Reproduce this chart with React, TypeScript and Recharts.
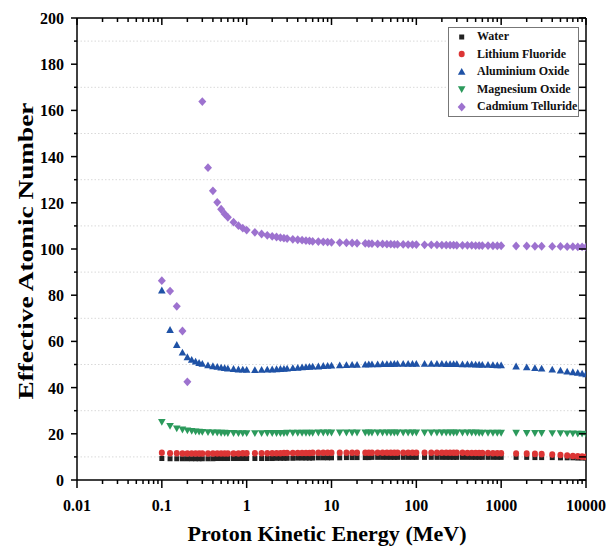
import { ScatterChart, Scatter, XAxis, YAxis, ReferenceLine } from "recharts";

// proton energies (MeV) used for every material
const energies = [
  0.1, 0.125, 0.15, 0.175, 0.2, 0.225, 0.25, 0.275, 0.3, 0.35, 0.4, 0.45, 0.5, 0.55, 0.6, 0.7, 0.8, 0.9, 1,
  1.25, 1.5, 1.75, 2, 2.25, 2.5, 2.75, 3, 3.5, 4, 4.5, 5, 5.5, 6, 7, 8, 9, 10,
  12.5, 15, 17.5, 20, 25, 27.5, 30, 35, 40, 45, 50, 55, 60, 70, 80, 90, 100,
  125, 150, 175, 200, 225, 250, 275, 300, 350, 400, 450, 500, 550, 600, 700, 800, 900, 1000,
  1500, 2000, 2500, 3000, 4000, 5000, 6000, 7000, 8000, 9000, 10000,
];

const water = [
  9.3, 9.2, 9.2, 9.2, 9.2, 9.2, 9.2, 9.2, 9.2, 9.2, 9.2, 9.3, 9.3, 9.3, 9.3, 9.3, 9.3, 9.3, 9.3,
  9.3, 9.3, 9.3, 9.3, 9.4, 9.4, 9.4, 9.4, 9.4, 9.5, 9.5, 9.5, 9.5, 9.5, 9.6, 9.6, 9.6, 9.6,
  9.6, 9.7, 9.7, 9.7, 9.7, 9.7, 9.8, 9.8, 9.8, 9.8, 9.8, 9.8, 9.8, 9.8, 9.8, 9.8, 9.8,
  9.8, 9.8, 9.8, 9.8, 9.8, 9.8, 9.8, 9.8, 9.8, 9.8, 9.8, 9.8, 9.8, 9.8, 9.8, 9.8, 9.8, 9.8,
  9.8, 9.8, 9.7, 9.7, 9.7, 9.6, 9.6, 9.6, 9.5, 9.5, 9.5,
];

const lithiumFluoride = [
  11.8, 11.6, 11.6, 11.5, 11.5, 11.5, 11.5, 11.5, 11.5, 11.5, 11.5, 11.5, 11.5, 11.5, 11.5, 11.5, 11.5, 11.6, 11.6,
  11.6, 11.6, 11.6, 11.6, 11.6, 11.6, 11.7, 11.7, 11.7, 11.7, 11.7, 11.7, 11.7, 11.8, 11.8, 11.8, 11.8, 11.8,
  11.8, 11.8, 11.8, 11.8, 11.8, 11.8, 11.8, 11.8, 11.8, 11.8, 11.8, 11.8, 11.8, 11.8, 11.8, 11.8, 11.8,
  11.8, 11.8, 11.8, 11.8, 11.8, 11.8, 11.8, 11.8, 11.8, 11.7, 11.7, 11.7, 11.7, 11.7, 11.7, 11.6, 11.6, 11.6,
  11.5, 11.4, 11.3, 11.2, 11.0, 10.8, 10.6, 10.4, 10.3, 10.1, 10.0,
];

const aluminiumOxide = [
  82.0, 64.9, 58.4, 55.1, 53.1, 52.0, 51.2, 50.6, 50.2, 49.6, 49.2, 48.9, 48.6, 48.4, 48.2, 48.0, 47.8, 47.7, 47.6,
  47.5, 47.6, 47.7, 47.8, 47.9, 48.0, 48.1, 48.2, 48.4, 48.5, 48.7, 48.8, 48.9, 49.0, 49.1, 49.3, 49.4, 49.5,
  49.6, 49.7, 49.8, 49.8, 49.9, 50.0, 50.0, 50.0, 50.1, 50.1, 50.1, 50.2, 50.2, 50.2, 50.2, 50.2, 50.2,
  50.2, 50.2, 50.2, 50.2, 50.1, 50.1, 50.1, 50.1, 50.0, 50.0, 50.0, 49.9, 49.9, 49.8, 49.8, 49.7, 49.6, 49.6,
  49.1, 48.7, 48.4, 48.2, 47.7, 47.3, 46.9, 46.6, 46.3, 46.0, 45.7,
];

const magnesiumOxide = [
  25.2, 23.5, 22.4, 21.9, 21.5, 21.3, 21.1, 21.0, 20.9, 20.8, 20.7, 20.6, 20.5, 20.5, 20.4, 20.4, 20.3, 20.3, 20.3,
  20.3, 20.3, 20.4, 20.4, 20.4, 20.4, 20.4, 20.5, 20.5, 20.5, 20.5, 20.5, 20.5, 20.5, 20.6, 20.6, 20.6, 20.6,
  20.6, 20.6, 20.6, 20.6, 20.6, 20.6, 20.6, 20.6, 20.6, 20.6, 20.6, 20.6, 20.6, 20.6, 20.6, 20.6, 20.6,
  20.6, 20.6, 20.6, 20.6, 20.6, 20.6, 20.6, 20.6, 20.6, 20.6, 20.6, 20.6, 20.5, 20.5, 20.5, 20.5, 20.5, 20.5,
  20.5, 20.4, 20.4, 20.4, 20.3, 20.3, 20.2, 20.2, 20.1, 20.1, 20.0,
];

// null = no point shown at that energy
const cadmiumTelluride = [
  86.3, 81.8, 75.2, 64.5, 42.5, null, null, null, 163.8, 135.2, 125.2, 120.2, 117.2, 115.2, 113.7, 111.6, 110.1, 109.0, 108.2,
  107.2, 106.5, 105.9, 105.5, 105.2, 104.9, 104.7, 104.5, 104.2, 104.0, 103.8, 103.6, 103.5, 103.3, 103.2, 103.1, 103.0, 102.9,
  102.8, 102.7, 102.6, 102.5, 102.4, 102.3, 102.3, 102.2, 102.2, 102.1, 102.1, 102.0, 102.0, 102.0, 101.9, 101.9, 101.9,
  101.8, 101.8, 101.8, 101.7, 101.7, 101.7, 101.7, 101.6, 101.6, 101.6, 101.6, 101.5, 101.5, 101.5, 101.5, 101.4, 101.4, 101.4,
  101.3, 101.3, 101.2, 101.2, 101.1, 101.1, 101.0, 101.0, 100.9, 100.9, 100.8,
];

const xTickLabels = ["0.01", "0.1", "1", "10", "100", "1000", "10000"];
const yTickLabels = ["0", "20", "40", "60", "80", "100", "120", "140", "160", "180", "200"];
const gridValues = [10, 30, 50, 70, 90, 110, 130, 150, 170, 190];

const xMajor = xTickLabels.map(Number);
const xTicks = [
  ...xMajor,
  ...xMajor.slice(0, -1).flatMap((d) => [2, 3, 4, 5, 6, 7, 8, 9].map((k) => +(d * k).toPrecision(6))),
].sort((a, b) => a - b);
const yMajor = yTickLabels.map(Number);
const yTicks = [...yMajor, ...yMajor.slice(0, -1).map((v) => v + 10)].sort((a, b) => a - b);
const X_MIN = xMajor[0];
const X_MAX = xMajor[xMajor.length - 1];
const Y_MAX = yMajor[yMajor.length - 1];

// chart box: plot area runs from (77,18) to (586,480)
const W = 609;
const H = 551;
const MARGIN = { top: 18, right: 23, bottom: 0, left: 0 };
const Y_AXIS_W = 77;
const X_AXIS_H = 71;
const PLOT = {
  left: MARGIN.left + Y_AXIS_W,
  right: W - MARGIN.right,
  top: MARGIN.top,
  bottom: H - MARGIN.bottom - X_AXIS_H,
};

const SERIF = "'Liberation Serif', 'Times New Roman', serif";
const tickFont = { fontFamily: SERIF, fontWeight: 700, fontSize: 16, fill: "#000" };

const isMajorX = (v: number) => Math.abs(Math.log10(v) - Math.round(Math.log10(v))) < 1e-6;

type ShapeFn = (cx: number, cy: number, fill: string) => JSX.Element;
const square: ShapeFn = (cx, cy, fill) => <rect x={cx - 2.5} y={cy - 2.5} width={5} height={5} fill={fill} />;
const circle: ShapeFn = (cx, cy, fill) => <ellipse cx={cx} cy={cy} rx={3} ry={3.3} fill={fill} />;
const triUp: ShapeFn = (cx, cy, fill) => (
  <path d={`M${cx},${cy - 4}L${cx + 3.8},${cy + 2.8}L${cx - 3.8},${cy + 2.8}Z`} fill={fill} />
);
const triDown: ShapeFn = (cx, cy, fill) => (
  <path d={`M${cx},${cy + 4}L${cx + 3.8},${cy - 2.8}L${cx - 3.8},${cy - 2.8}Z`} fill={fill} />
);
const diamond: ShapeFn = (cx, cy, fill) => (
  <path d={`M${cx},${cy - 4.4}L${cx + 4},${cy}L${cx},${cy + 4.4}L${cx - 4},${cy}Z`} fill={fill} />
);

const SERIES = [
  { name: "Water", values: water, color: "#222222", shape: square },
  { name: "Lithium Fluoride", values: lithiumFluoride, color: "#dc3535", shape: circle },
  { name: "Aluminium Oxide", values: aluminiumOxide, color: "#1f52a6", shape: triUp },
  { name: "Magnesium Oxide", values: magnesiumOxide, color: "#2c9a5c", shape: triDown },
  { name: "Cadmium Telluride", values: cadmiumTelluride, color: "#9d72cf", shape: diamond },
];

const toRows = (vals: (number | null)[]) =>
  energies.map((x, i) => ({ x, y: vals[i] })).filter((r) => r.y != null);

// bottom tick + label, and the mirrored inward tick on the top edge at the same x
function BottomTick({ x, y, payload }: any) {
  const major = isMajorX(payload.value);
  return (
    <g>
      <line x1={x} x2={x} y1={y} y2={y + (major ? 8 : 4)} stroke="#000" strokeWidth={1.5} />
      <line x1={x} x2={x} y1={PLOT.top} y2={PLOT.top + (major ? 7 : 4)} stroke="#000" strokeWidth={1.5} />
      {major && (
        <text x={x} y={y + 31} textAnchor="middle" style={tickFont}>
          {xTickLabels[xMajor.indexOf(payload.value)]}
        </text>
      )}
    </g>
  );
}

// left tick + label, and the mirrored inward tick on the right edge at the same y
function LeftTick({ x, y, payload }: any) {
  const major = payload.value % 20 === 0;
  return (
    <g>
      <line x1={x} x2={x - (major ? 6 : 3)} y1={y} y2={y} stroke="#000" strokeWidth={1.5} />
      <line x1={PLOT.right} x2={PLOT.right - 7} y1={y} y2={y} stroke="#000" strokeWidth={1.5} />
      {major && (
        <text x={x - 13} y={y + 6} textAnchor="end" style={tickFont}>
          {yTickLabels[yMajor.indexOf(payload.value)]}
        </text>
      )}
    </g>
  );
}

function XTitle() {
  return (
    <g>
      {/* top and right edges of the box */}
      <line x1={PLOT.left} x2={PLOT.right} y1={PLOT.top} y2={PLOT.top} stroke="#000" strokeWidth={1.5} />
      <line x1={PLOT.right} x2={PLOT.right} y1={PLOT.top} y2={PLOT.bottom} stroke="#000" strokeWidth={1.5} />
      <text x={327} y={541} textAnchor="middle" textLength={279} lengthAdjust="spacingAndGlyphs"
        style={{ fontFamily: SERIF, fontWeight: 700, fontSize: 21, fill: "#000" }}>
        Proton Kinetic Energy (MeV)
      </text>
    </g>
  );
}

function YTitle() {
  return (
    <text x={33} y={251} transform="rotate(-90, 33, 251)" textAnchor="middle" textLength={297}
      lengthAdjust="spacingAndGlyphs" style={{ fontFamily: SERIF, fontWeight: 700, fontSize: 20, fill: "#000" }}>
      Effective Atomic Number
    </text>
  );
}

function LegendBox() {
  return (
    <div style={{ position: "absolute", zIndex: 3, left: 448, top: 27, boxSizing: "border-box", width: 131, height: 90,
      border: "1px solid #777", background: "#fff" }}>
      {SERIES.map((s) => (
        <div key={s.name} style={{ display: "flex", alignItems: "center", height: 17.5 }}>
          <svg width={28} height={12} style={{ flex: "none" }}>
            {s.shape(12.7, 6, s.color)}
          </svg>
          <span style={{ fontFamily: SERIF, fontWeight: 700, fontSize: 12, color: "#111", whiteSpace: "nowrap" }}>
            {s.name}
          </span>
        </div>
      ))}
    </div>
  );
}

export default function App() {
  return (
    <div style={{ position: "absolute", left: 0, top: 0, width: W, height: H, background: "#fff" }}>
      <ScatterChart width={W} height={H} margin={MARGIN}>
        <XAxis dataKey="x" type="number" scale="log" domain={[X_MIN, X_MAX]} allowDataOverflow
          ticks={xTicks} interval={0} tickSize={0} tickMargin={0} tickLine={false} tick={<BottomTick />}
          stroke="#000" strokeWidth={1.5} height={X_AXIS_H} label={<XTitle />} />
        <YAxis dataKey="y" type="number" domain={[0, Y_MAX]} allowDataOverflow ticks={yTicks}
          interval={0} tickSize={0} tickMargin={0} tickLine={false} tick={<LeftTick />}
          stroke="#000" strokeWidth={1.5} width={Y_AXIS_W} label={<YTitle />} />
        {gridValues.map((v) => (
          <ReferenceLine key={v} y={v} stroke="#d9d9d9" strokeDasharray="1.5 2" />
        ))}
        {SERIES.map((s) => (
          <Scatter key={s.name} name={s.name} data={toRows(s.values)} fill={s.color}
            isAnimationActive={false}
            shape={(p: any) => s.shape(p.cx, p.cy, s.color)} />
        ))}
      </ScatterChart>
      <LegendBox />
    </div>
  );
}
